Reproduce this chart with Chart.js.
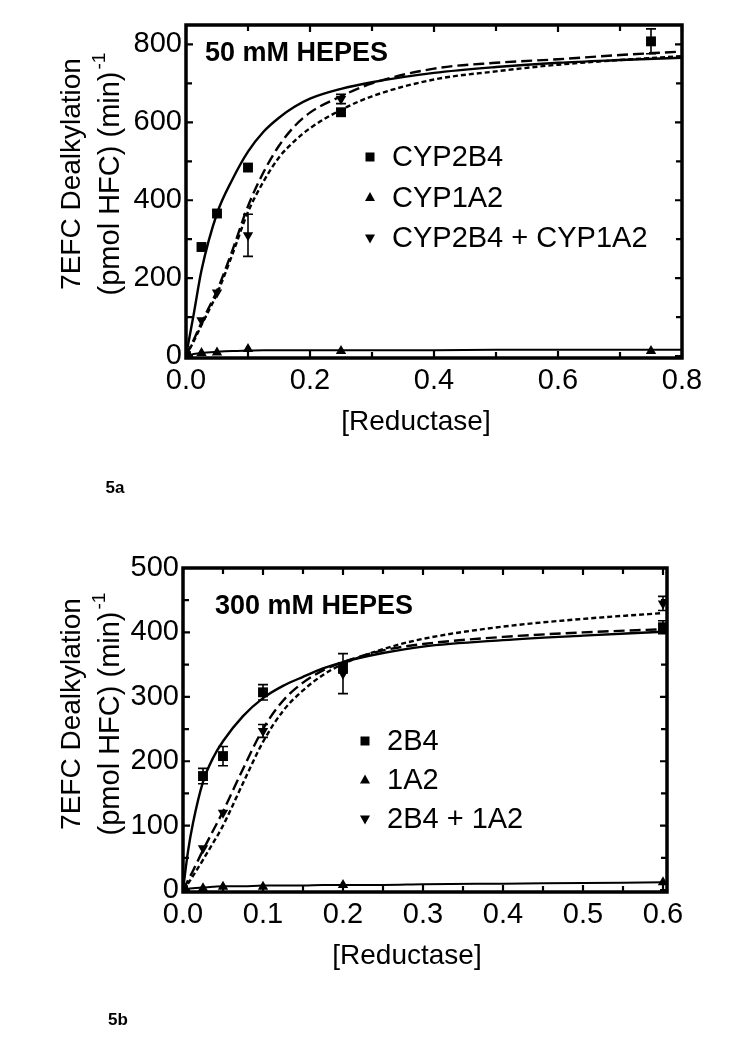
<!DOCTYPE html>
<html>
<head>
<meta charset="utf-8">
<script src="https://cdn.jsdelivr.net/npm/chart.js@4/dist/chart.umd.min.js"></script>
<style>
  body { margin: 0; background: #fff; }
  canvas { position: absolute; left: 0; }
</style>
</head>
<body>
<canvas id="chartA" width="750" height="520" style="top:0"></canvas>
<canvas id="chartB" width="750" height="527" style="top:520px"></canvas>
<script>
// Panel 5a - 50 mM HEPES
const reductaseA = [0, 0.025, 0.05, 0.1, 0.25, 0.75];
const cyp2b4A = [0, 280, 366, 484, 626, 808];
const cyp2b4ErrA = [0, 0, 0, 0, 8, 32];
const cyp1a2A = [0, 8, 9, 18, 13, 13];
const mixA = [0, 92, 163, 310, 660, null];
const mixErrA = [0, 0, 0, 54, 12, 0];
const fitXA = [0, 0.0125, 0.025, 0.05, 0.075, 0.1, 0.125, 0.15, 0.175, 0.2, 0.25, 0.3, 0.4, 0.5, 0.6, 0.7, 0.8];
const solidFitA = [0, 108, 220, 366, 454, 525, 576, 612, 640, 661, 686, 703, 727, 742, 753, 760, 766];
const longDashFitA = [0, 42, 86, 168, 272, 385, 472, 540, 590, 625, 667, 700, 738, 753, 762, 773, 782];
const shortDashFitA = [0, 38, 80, 160, 262, 370, 448, 510, 552, 585, 632, 667, 710, 731, 748, 760, 770];
const cyp1a2FitA = [0, 5, 8, 11, 13, 14, 15, 15, 15, 15, 15, 15, 15, 16, 16, 16, 16];
const legendA = ['CYP2B4', 'CYP1A2', 'CYP2B4 + CYP1A2'];
const xTicksA = [0, 0.2, 0.4, 0.6, 0.8];
const xMinorA = [0.1, 0.3, 0.5, 0.7];
const yTicksA = [0, 200, 400, 600, 800];
const yMinorA = [100, 300, 500, 700];

// Panel 5b - 300 mM HEPES
const reductaseB = [0, 0.025, 0.05, 0.1, 0.2, 0.6];
const cyp2b4B = [0, 177, 208, 307, 345, 408];
const cyp2b4ErrB = [0, 12, 15, 12, 8, 10];
const cyp1a2B = [0, 3, 5, 5, 8, 12];
const mixB = [0, 65, 120, 247, 336, 445];
const mixErrB = [0, 0, 0, 10, 31, 11];
const fitXB = [0, 0.00625, 0.0125, 0.025, 0.0375, 0.05, 0.075, 0.1, 0.125, 0.15, 0.175, 0.2, 0.25, 0.3, 0.4, 0.5, 0.6];
const solidFitB = [0, 60, 104, 168, 205, 231, 270, 298, 317, 331, 344, 354, 368, 378, 388, 395, 401];
const longDashFitB = [0, 15, 30, 62, 92, 122, 188, 250, 294, 322, 341, 354, 372, 382, 393, 400, 405];
const shortDashFitB = [0, 10, 22, 47, 73, 100, 166, 230, 278, 310, 334, 351, 374, 390, 409, 421, 430];
const cyp1a2FitB = [0, 2, 3, 4, 5, 6, 6, 7, 7, 7, 8, 8, 8, 9, 10, 11, 12];
const legendB = ['2B4', '1A2', '2B4 + 1A2'];
const xTicksB = [0, 0.1, 0.2, 0.3, 0.4, 0.5, 0.6];
const xMinorB = [0.05, 0.15, 0.25, 0.35, 0.45, 0.55];
const yTicksB = [0, 100, 200, 300, 400, 500];
const yMinorB = [50, 150, 250, 350, 450];

const FONT = "'Liberation Sans', Arial, sans-serif";

function pts(xs, ys) {
  return xs.map((x, i) => ({ x: x, y: ys[i] }));
}

// draws a small marker for the legend
function marker(ctx, style, x, y) {
  ctx.beginPath();
  if (style === 'square') {
    ctx.rect(x - 4.5, y - 4.5, 9, 9);
  } else if (style === 'up') {
    ctx.moveTo(x, y - 5.5); ctx.lineTo(x + 5, y + 3.5); ctx.lineTo(x - 5, y + 3.5);
  } else {
    ctx.moveTo(x, y + 5.5); ctx.lineTo(x + 5, y - 3.5); ctx.lineTo(x - 5, y - 3.5);
  }
  ctx.closePath();
  ctx.fill();
}

function makeChart(id, p) {
  const framePlugin = {
    id: 'frame',
    afterDatasetsDraw(chart) {
      const ctx = chart.ctx;
      const xs = chart.scales.x, ys = chart.scales.y;
      // error bars
      ctx.save();
      ctx.strokeStyle = '#000';
      ctx.lineWidth = 1.6;
      p.errors.forEach(e => {
        e.x.forEach((xv, i) => {
          const err = e.err[i];
          if (!err || e.y[i] == null) return;
          const px = xs.getPixelForValue(xv);
          const y1 = ys.getPixelForValue(e.y[i] - err);
          const y2 = ys.getPixelForValue(e.y[i] + err);
          ctx.beginPath();
          ctx.moveTo(px, y1); ctx.lineTo(px, y2);
          ctx.moveTo(px - 5, y1); ctx.lineTo(px + 5, y1);
          ctx.moveTo(px - 5, y2); ctx.lineTo(px + 5, y2);
          ctx.stroke();
        });
      });
      ctx.restore();
    },
    afterDraw(chart) {
      const ctx = chart.ctx;
      const a = chart.chartArea;
      const xs = chart.scales.x, ys = chart.scales.y;
      ctx.save();
      ctx.strokeStyle = '#000';
      ctx.fillStyle = '#000';
      // inward ticks on all four sides
      ctx.lineWidth = 2.2;
      const xAll = p.xMajor.map(v => [v, 7]).concat(p.xMinor.map(v => [v, 6]));
      xAll.forEach(([v, len]) => {
        const px = xs.getPixelForValue(v);
        ctx.beginPath();
        ctx.moveTo(px, a.bottom); ctx.lineTo(px, a.bottom - len);
        ctx.moveTo(px, a.top); ctx.lineTo(px, a.top + len);
        ctx.stroke();
      });
      const yAll = p.yMajor.map(v => [v, 7]).concat(p.yMinor.map(v => [v, 6]));
      yAll.forEach(([v, len]) => {
        const py = ys.getPixelForValue(v);
        ctx.beginPath();
        ctx.moveTo(a.left, py); ctx.lineTo(a.left + len, py);
        ctx.moveTo(a.right, py); ctx.lineTo(a.right - len, py);
        ctx.stroke();
      });
      // frame
      ctx.lineWidth = 3.5;
      ctx.strokeRect(a.left, a.top, a.right - a.left, a.bottom - a.top);

      // panel label
      ctx.font = 'bold 27px ' + FONT;
      ctx.textAlign = 'left';
      ctx.textBaseline = 'middle';
      ctx.fillText(p.panel, p.panelPos[0], p.panelPos[1]);

      // legend
      ctx.font = '29px ' + FONT;
      const styles = ['square', 'up', 'down'];
      p.legend.forEach((t, i) => {
        const ly = p.legendPos[1] + i * p.legendGap;
        marker(ctx, styles[i], p.legendPos[0], ly);
        ctx.fillText(t, p.legendPos[0] + 22, ly + 1);
      });

      // x title
      ctx.font = '28px ' + FONT;
      ctx.textAlign = 'center';
      ctx.fillText('[Reductase]', p.xTitle[0], p.xTitle[1]);

      // figure label
      ctx.font = 'bold 17px ' + FONT;
      ctx.fillText(p.fig, p.figPos[0], p.figPos[1]);

      // y title, two rotated lines, second one with superscript
      ctx.save();
      ctx.translate(72, p.yTitleCenter);
      ctx.rotate(-Math.PI / 2);
      ctx.font = '28px ' + FONT;
      ctx.fillText('7EFC Dealkylation', 0, 0);
      ctx.restore();
      ctx.save();
      ctx.translate(111, p.yTitleCenter);
      ctx.rotate(-Math.PI / 2);
      ctx.font = '29px ' + FONT;
      const main = '(pmol HFC) (min)';
      const w1 = ctx.measureText(main).width;
      ctx.font = '19px ' + FONT;
      const w2 = ctx.measureText('-1').width;
      const start = -(w1 + w2 + 2) / 2;
      ctx.textAlign = 'left';
      ctx.font = '29px ' + FONT;
      ctx.fillText(main, start, 0);
      ctx.font = '19px ' + FONT;
      ctx.fillText('-1', start + w1 + 2, -11);
      ctx.restore();

      ctx.restore();
    }
  };

  const pointStyle = (style, rot) => ({
    showLine: false,
    pointStyle: style,
    rotation: rot,
    pointRadius: style === 'rect' ? 7 : 6,
    pointBackgroundColor: '#000',
    pointBorderColor: '#000',
    borderWidth: 0
  });
  const curve = (dash, width) => ({
    showLine: true,
    pointRadius: 0,
    borderColor: '#000',
    borderWidth: width,
    borderDash: dash,
    cubicInterpolationMode: 'monotone',
    fill: false
  });

  return new Chart(document.getElementById(id), {
    type: 'scatter',
    data: {
      datasets: [
        Object.assign({ label: p.legend[0], data: pts(p.px, p.s1) }, pointStyle('rect', 0)),
        Object.assign({ label: p.legend[1], data: pts(p.px, p.s2) }, pointStyle('triangle', 0)),
        Object.assign({ label: p.legend[2], data: pts(p.px, p.s3) }, pointStyle('triangle', 180)),
        Object.assign({ label: 'fit solid', data: pts(p.fx, p.f1) }, curve([], 2.4)),
        Object.assign({ label: 'fit long dash', data: pts(p.fx, p.f2) }, curve([11, 5], 2.4)),
        Object.assign({ label: 'fit short dash', data: pts(p.fx, p.f3) }, curve([5, 3], 2.4)),
        Object.assign({ label: 'fit 1A2', data: pts(p.fx, p.f4) }, curve([], 2))
      ]
    },
    options: {
      responsive: false,
      animation: false,
      layout: { padding: { left: 0, top: p.top, right: p.right, bottom: 0 } },
      plugins: { legend: { display: false }, tooltip: { enabled: false } },
      scales: {
        x: {
          type: 'linear',
          min: p.xMin, max: p.xMax,
          afterBuildTicks: s => { s.ticks = p.xMajor.map(v => ({ value: v })); },
          afterFit: s => { s.height = p.xAxisH; },
          grid: { display: false, drawTicks: false },
          border: { display: false },
          ticks: {
            autoSkip: false, maxRotation: 0, padding: 6, color: '#000',
            font: { family: FONT, size: 29 },
            callback: v => Number(v).toFixed(1)
          }
        },
        y: {
          type: 'linear',
          min: p.yMin, max: p.yMax,
          afterBuildTicks: s => { s.ticks = p.yMajor.map(v => ({ value: v })); },
          afterFit: s => { s.width = p.left; },
          grid: { display: false, drawTicks: false },
          border: { display: false },
          ticks: {
            padding: 4, color: '#000',
            font: { family: FONT, size: 29 },
            callback: v => String(v)
          }
        }
      }
    },
    plugins: [framePlugin]
  });
}

makeChart('chartA', {
  px: reductaseA, s1: cyp2b4A, s2: cyp1a2A, s3: mixA,
  fx: fitXA, f1: solidFitA, f2: longDashFitA, f3: shortDashFitA, f4: cyp1a2FitA,
  errors: [
    { x: reductaseA, y: cyp2b4A, err: cyp2b4ErrA },
    { x: reductaseA, y: mixA, err: mixErrA }
  ],
  legend: legendA,
  xMajor: xTicksA, xMinor: xMinorA, yMajor: yTicksA, yMinor: yMinorA,
  xMin: 0, xMax: 0.8, yMin: -5, yMax: 850,
  left: 186, top: 25, right: 68, xAxisH: 162,
  panel: '50 mM HEPES', panelPos: [205, 54],
  legendPos: [370, 157], legendGap: 40.5,
  xTitle: [416, 422], fig: '5a', figPos: [115, 488],
  yTitleCenter: 174
});

makeChart('chartB', {
  px: reductaseB, s1: cyp2b4B, s2: cyp1a2B, s3: mixB,
  fx: fitXB, f1: solidFitB, f2: longDashFitB, f3: shortDashFitB, f4: cyp1a2FitB,
  errors: [
    { x: reductaseB, y: cyp2b4B, err: cyp2b4ErrB },
    { x: reductaseB, y: mixB, err: mixErrB }
  ],
  legend: legendB,
  xMajor: xTicksB, xMinor: xMinorB, yMajor: yTicksB, yMinor: yMinorB,
  xMin: 0, xMax: 0.605, yMin: -3, yMax: 500,
  left: 183, top: 48, right: 83, xAxisH: 155,
  panel: '300 mM HEPES', panelPos: [215, 87],
  legendPos: [365, 221], legendGap: 39,
  xTitle: [407, 436], fig: '5b', figPos: [118, 500],
  yTitleCenter: 194
});
</script>
</body>
</html>
